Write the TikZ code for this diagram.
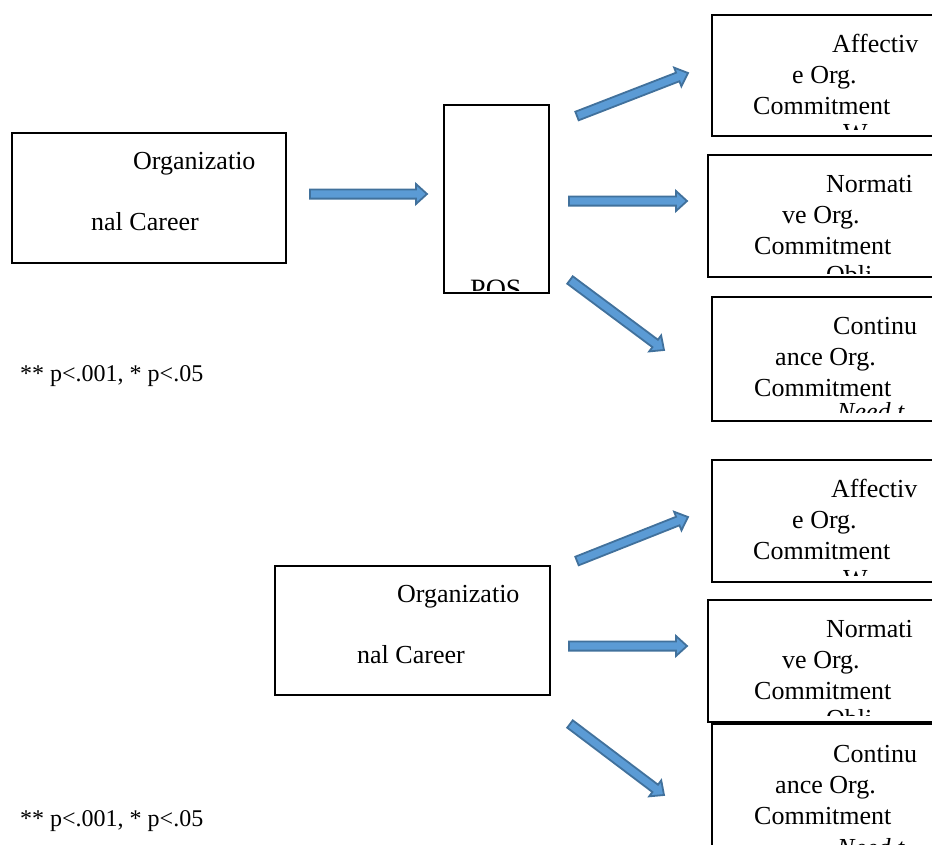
\documentclass[tikz,border=0pt]{standalone}
\usepackage{fontspec}
\setmainfont{Liberation Serif}
\usetikzlibrary{calc}
\definecolor{arrowfill}{HTML}{5B9BD5}
\definecolor{arrowdraw}{HTML}{41719C}
\tikzset{
  box/.style={draw=black, line width=1.6pt, inner sep=0pt, anchor=north west},
  txt/.style={anchor=base west, inner sep=0pt, font=\fontsize{26}{30}\selectfont},
  bigtxt/.style={txt, font=\fontsize{28}{32}\selectfont},
  fntxt/.style={txt, font=\fontsize{24}{28}\selectfont},
  itxt/.style={txt, font=\fontsize{26}{30}\selectfont\itshape},
  barrowstyle/.style={fill=arrowfill, draw=arrowdraw, line width=1.8pt, line join=miter},
}
\newcommand\blockarrow[2]{%
  \coordinate (#1h) at ($(#2)!11pt!(#1)$);
  \draw[barrowstyle] ($(#1)!4.6pt!90:(#2)$) -- ($(#1h)!4.6pt!90:(#2)$) -- ($(#1h)!10pt!90:(#2)$)
    -- (#2) -- ($(#1h)!10pt!-90:(#2)$) -- ($(#1h)!4.6pt!-90:(#2)$) -- ($(#1)!4.6pt!-90:(#2)$) -- cycle;
}
% clip to the inside of a box, stopping #2 pt above its bottom edge
\newcommand\boxclip[2]{\clip (#1.north west) rectangle ($(#1.south east)+(0,-#2)$);}
\begin{document}
\begin{tikzpicture}[x=1pt,y=-1pt]
\useasboundingbox (0,0) rectangle (932,844);
\clip (0,0) rectangle (932,844);

% ---------- upper diagram ----------
\node[box, minimum width=274pt, minimum height=130pt] (oc1) at (11,132) {};
\node[txt] (oc1a) at (133,169) {Organizatio};
\node[txt] (oc1b) at (91,230) {nal Career};

\node[box, minimum width=105pt, minimum height=188pt] (pos) at (443,104) {};
\begin{scope}
  \boxclip{pos}{3}
  \node[bigtxt] (posl) at (470,298) {POS};
\end{scope}

\node[fntxt] (fn1) at (20,381) {** p<.001, * p<.05};

% right boxes (upper)
\node[box, minimum width=260pt, minimum height=121pt] (a1) at (711,14) {};
\begin{scope}
  \boxclip{a1}{7}
  \node[txt] (a1l1) at (832,52) {Affectiv};
  \node[txt] (a1l2) at (792,83) {e Org.};
  \node[txt] (a1l3) at (753,114) {Commitment};
  \node[txt] (a1l4) at (843,141) {W};
\end{scope}

\node[box, minimum width=260pt, minimum height=122pt] (n1) at (707,154) {};
\begin{scope}
  \boxclip{n1}{4}
  \node[txt] (n1l1) at (826,192) {Normati};
  \node[txt] (n1l2) at (782,223) {ve Org.};
  \node[txt] (n1l3) at (754,254) {Commitment};
  \node[txt] (n1l4) at (826,283) {Obli};
\end{scope}

\node[box, minimum width=260pt, minimum height=124pt] (c1) at (711,296) {};
\begin{scope}
  \boxclip{c1}{9}
  \node[txt] (c1l1) at (833,334) {Continu};
  \node[txt] (c1l2) at (775,365) {ance Org.};
  \node[txt] (c1l3) at (754,396) {Commitment};
  \node[itxt] (c1l4) at (837,420) {Need t};
\end{scope}

% arrows (upper)
\coordinate (u0s) at (310,194); \coordinate (u0e) at (427,194);
\coordinate (u1s) at (577,116); \coordinate (u1e) at (688,73);
\coordinate (u2s) at (569,201); \coordinate (u2e) at (687,201);
\coordinate (u3s) at (570,280); \coordinate (u3e) at (664,350);
\blockarrow{u0s}{u0e}
\blockarrow{u1s}{u1e}
\blockarrow{u2s}{u2e}
\blockarrow{u3s}{u3e}

% ---------- lower diagram ----------
\node[box, minimum width=275pt, minimum height=129pt] (oc2) at (274,565) {};
\node[txt] (oc2a) at (397,602) {Organizatio};
\node[txt] (oc2b) at (357,663) {nal Career};

\node[fntxt] (fn2) at (20,826) {** p<.001, * p<.05};

\node[box, minimum width=260pt, minimum height=122pt] (a2) at (711,459) {};
\begin{scope}
  \boxclip{a2}{7}
  \node[txt] (a2l1) at (831,497) {Affectiv};
  \node[txt] (a2l2) at (792,528) {e Org.};
  \node[txt] (a2l3) at (753,559) {Commitment};
  \node[txt] (a2l4) at (843,587) {W};
\end{scope}

\node[box, minimum width=260pt, minimum height=122pt] (n2) at (707,599) {};
\begin{scope}
  \boxclip{n2}{7}
  \node[txt] (n2l1) at (826,637) {Normati};
  \node[txt] (n2l2) at (782,668) {ve Org.};
  \node[txt] (n2l3) at (754,699) {Commitment};
  \node[txt] (n2l4) at (826,727) {Obli};
\end{scope}

\node[box, minimum width=260pt, minimum height=160pt] (c2) at (711,723) {};
\begin{scope}
  \boxclip{c2}{0}
  \node[txt] (c2l1) at (833,762) {Continu};
  \node[txt] (c2l2) at (775,793) {ance Org.};
  \node[txt] (c2l3) at (754,824) {Commitment};
  \node[itxt] (c2l4) at (837,856) {Need t};
\end{scope}

\coordinate (l1s) at (577,561); \coordinate (l1e) at (688,517);
\coordinate (l2s) at (569,646); \coordinate (l2e) at (687,646);
\coordinate (l3s) at (570,724); \coordinate (l3e) at (664,795);
\blockarrow{l1s}{l1e}
\blockarrow{l2s}{l2e}
\blockarrow{l3s}{l3e}
\end{tikzpicture}
\end{document}
